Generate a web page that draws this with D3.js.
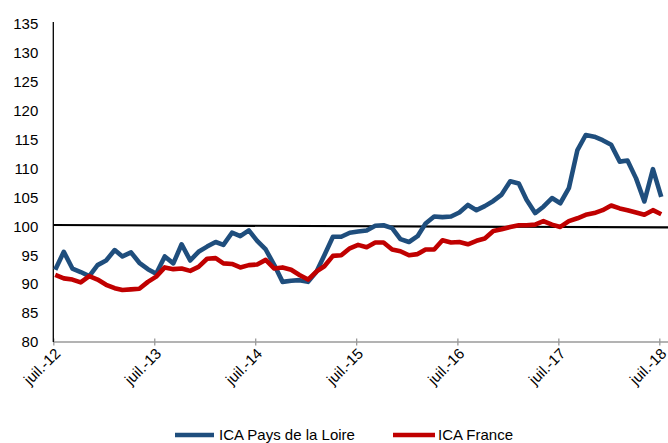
<!DOCTYPE html>
<html><head><meta charset="utf-8">
<script src="https://cdn.jsdelivr.net/npm/d3@7"></script>
<style>
html,body{margin:0;padding:0;background:#fff;}
svg{display:block;font-family:"Liberation Sans",Arial,sans-serif;}
</style></head>
<body>
<svg id="c" width="668" height="443"></svg>
<script>
const tickLabels = ["juil.-12","juil.-13","juil.-14","juil.-15","juil.-16","juil.-17","juil.-18"];
const yTicks = [80,85,90,95,100,105,110,115,120,125,130,135];
const seriesNames = ["ICA Pays de la Loire","ICA France"];
const paysLoire = [92.5,95.6,92.7,92.1,91.4,93.3,94.1,95.9,94.8,95.5,93.7,92.6,
  91.8,94.8,93.6,96.9,94.1,95.6,96.5,97.3,96.8,98.9,98.3,99.3,
  97.5,96.0,93.3,90.4,90.6,90.7,90.4,92.2,95.0,98.2,98.2,98.9,
  99.1,99.3,100.1,100.2,99.7,97.8,97.3,98.3,100.5,101.7,101.6,101.7,
  102.4,103.7,102.8,103.5,104.4,105.5,107.8,107.4,104.6,102.3,103.4,104.9,
  104.0,106.6,113.2,115.8,115.5,114.9,114.1,111.2,111.4,108.3,104.3,109.9,
  105.1];
const france = [91.6,91.0,90.8,90.3,91.4,90.8,89.9,89.3,89.0,89.1,89.2,90.4,
  91.3,92.9,92.6,92.7,92.3,93.0,94.4,94.5,93.6,93.5,92.9,93.3,
  93.4,94.2,92.7,92.9,92.5,91.6,90.8,92.2,93.1,94.9,95.0,96.2,
  96.8,96.4,97.2,97.2,96.0,95.7,95.0,95.2,96.0,96.0,97.6,97.2,
  97.3,96.9,97.5,97.9,99.2,99.5,99.9,100.2,100.2,100.3,100.9,100.3,
  99.9,100.9,101.4,102.0,102.3,102.8,103.6,103.1,102.8,102.4,102.0,102.8,
  102.1];
const refLine = [100.24, 99.82];

const svg = d3.select("#c");
const x0 = 53.3, x1 = 659.3, yTop = 24, yBot = 342;
const x = d3.scaleTime().domain([new Date(2012,6,1), new Date(2018,6,1)]).range([x0, x1]);
const y = d3.scaleLinear().domain([80,135]).range([yBot, yTop]);
const dates = paysLoire.map((d,i)=> new Date(2012, 6+i, 8));

// reference line
const refDates = [new Date(2012,6,1), x.invert(668)];
svg.append("line")
  .attr("x1", x(refDates[0])).attr("y1", y(refLine[0]))
  .attr("x2", x(refDates[1])).attr("y2", y(refLine[1]))
  .attr("stroke","#000").attr("stroke-width",2.2);

// x axis
const tickDates = tickLabels.map((t,i)=> new Date(2012+i,6,1));
const xAxis = svg.append("g").attr("transform",`translate(0,${yBot})`)
  .call(d3.axisBottom(x).tickValues(tickDates).tickFormat((d,i)=>tickLabels[i]).tickSize(4).tickSizeOuter(0));
xAxis.select(".domain").attr("d", `M${x0},0H668`).attr("stroke","#9a9a9a").attr("stroke-width",1.3);
xAxis.selectAll(".tick line").attr("y1",-3.5).attr("y2",3.5).attr("stroke","#9a9a9a").attr("stroke-width",1.3);
xAxis.selectAll(".tick text")
  .attr("font-size",15).attr("fill","#000")
  .attr("text-anchor","end")
  .attr("transform","translate(-1,4) rotate(-45)")
  .attr("x",0).attr("y",0).attr("dy","0.8em");

// y axis
const yAxis = svg.append("g").attr("transform",`translate(${x0},0)`)
  .call(d3.axisLeft(y).tickValues(yTicks).tickSize(0).tickPadding(15).tickFormat(d3.format("d")));
yAxis.select(".domain").attr("d", `M0,${yTop-2}V${yBot}`).attr("stroke","#000").attr("stroke-width",1.3);
yAxis.selectAll(".tick text").attr("font-size",15).attr("fill","#000");

// lines
const line = d3.line().x((d,i)=>x(dates[i])).y(d=>y(d));
const colors = ["#1F4E7D","#C00000"];
[paysLoire, france].forEach((s,k)=>{
  svg.append("path").datum(s).attr("d", line)
    .attr("fill","none").attr("stroke",colors[k]).attr("stroke-width",4.6)
    .attr("stroke-linejoin","round").attr("stroke-linecap","butt");
});

// legend
const leg = [{x:175, w:39, tx:219},{x:393, w:42, tx:438}];
leg.forEach((l,k)=>{
  svg.append("line").attr("x1",l.x).attr("x2",l.x+l.w).attr("y1",435).attr("y2",435)
    .attr("stroke",colors[k]).attr("stroke-width",4.6);
  svg.append("text").attr("x",l.tx).attr("y",439.5).attr("font-size",15).attr("fill","#000")
    .text(seriesNames[k]);
});
</script>
</body></html>
